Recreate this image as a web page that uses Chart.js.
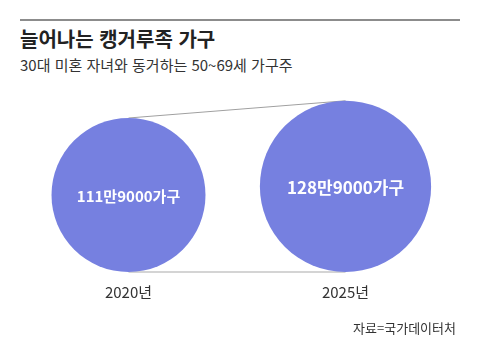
<!DOCTYPE html>
<html lang="ko">
<head>
<meta charset="utf-8">
<script src="https://cdn.jsdelivr.net/npm/chart.js@4"></script>
<style>
  html, body { margin: 0; padding: 0; background: #fff; }
  #wrap { position: relative; width: 480px; height: 354px; overflow: hidden; font-family: "Noto Sans CJK KR", "Noto Sans", sans-serif; }
  #rule { position: absolute; left: 20px; top: 19px; width: 440px; height: 2px; background: #8c8c8c; }
  #title { position: absolute; left: 20px; top: 27px; font-size: 20px; line-height: 24px; font-weight: bold; color: #222; }
  #subtitle { position: absolute; left: 20px; top: 56px; font-size: 15px; line-height: 18px; color: #333; }
  #source { position: absolute; right: 24px; top: 320px; font-size: 13px; line-height: 16px; color: #333; }
  canvas { position: absolute; left: 0; top: 0; }
</style>
</head>
<body>
<div id="wrap">
  <div id="rule"></div>
  <div id="title">늘어나는 캥거루족 가구</div>
  <div id="subtitle">30대 미혼 자녀와 동거하는 50~69세 가구주</div>
  <canvas id="bubbleChart" width="480" height="354"></canvas>
  <div id="source">자료=국가데이터처</div>
</div>
<script>
const years = ['2020년', '2025년'];
const households = [111.9, 128.9]; // 만 가구
const valueLabels = ['111만9000가구', '128만9000가구'];

const BASE_RADIUS = 77;
const PLOT_HEIGHT = 182;
const bubbleColor = 'rgb(118, 128, 224)';

// circle radius grows with the household count
function radiusFor(v) {
    return BASE_RADIUS * Math.pow(v / households[0], 0.75);
}

const radii = households.map(radiusFor);

// labels inside the circles
const bubbleLabels = {
    id: 'bubbleLabels',
    afterDatasetsDraw(chart) {
        const meta = chart.getDatasetMeta(2);
        const ctx = chart.ctx;
        ctx.save();
        ctx.fillStyle = '#fff';
        ctx.textAlign = 'center';
        ctx.textBaseline = 'middle';
        meta.data.forEach((pt, i) => {
            const size = i === 0 ? 15 : 17;
            ctx.font = 'bold ' + size + 'px "Noto Sans CJK KR", sans-serif';
            ctx.fillText(valueLabels[i], pt.x, pt.y + 1);
        });
        ctx.restore();
    }
};

new Chart(document.getElementById('bubbleChart'), {
    data: {
        labels: years,
        datasets: [
            {
                type: 'line',
                data: years.map((y, i) => ({ x: y, y: radii[i] * 2 })),
                borderColor: '#a0a0a0',
                borderWidth: 1,
                pointRadius: 0,
                clip: false,
                order: 3
            },
            {
                type: 'line',
                data: years.map(y => ({ x: y, y: 0 })),
                borderColor: '#d4d4d4',
                borderWidth: 2,
                pointRadius: 0,
                clip: false,
                order: 2
            },
            {
                type: 'bubble',
                data: years.map((y, i) => ({ x: y, y: radii[i], r: radii[i] })),
                backgroundColor: bubbleColor,
                borderWidth: 0,
                clip: false,
                order: 1
            }
        ]
    },
    options: {
        responsive: false,
        animation: false,
        layout: { autoPadding: false, padding: { left: 20, right: 26, top: 90, bottom: 42 } },
        plugins: {
            legend: { display: false },
            tooltip: { enabled: false }
        },
        scales: {
            x: {
                type: 'category',
                offset: true,
                grid: { display: false },
                border: { display: false },
                ticks: {
                    padding: 3,
                    color: '#333',
                    font: { family: '"Noto Sans CJK KR", sans-serif', size: 15 }
                },
                afterFit(scale) { scale.height = 40; }
            },
            y: {
                display: false,
                min: 0,
                max: PLOT_HEIGHT
            }
        }
    },
    plugins: [bubbleLabels]
});
</script>
</body>
</html>
